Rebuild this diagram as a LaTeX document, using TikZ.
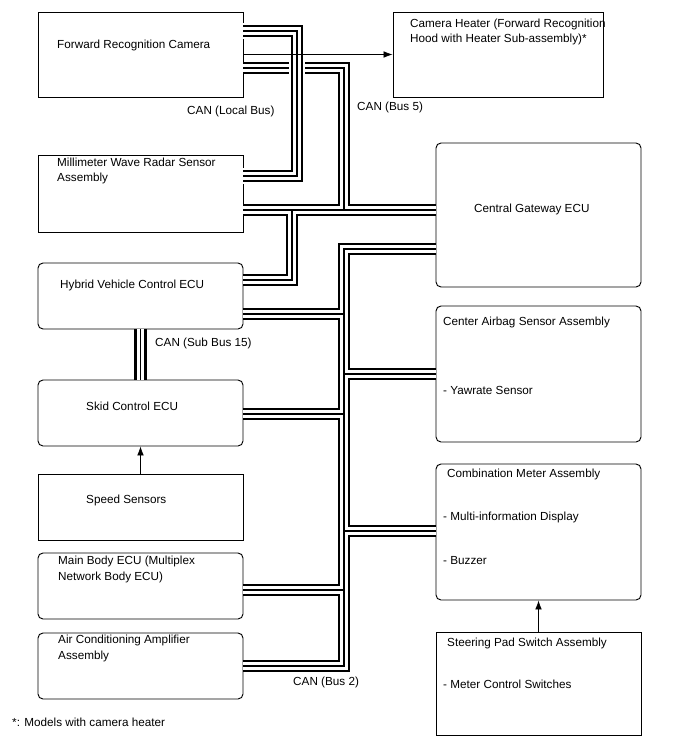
\documentclass[tikz,border=0pt]{standalone}
\usepackage{fontspec}
\setmainfont{Liberation Sans}
\usetikzlibrary{arrows.meta}

\begin{document}
\begin{tikzpicture}[
        x=0.03cm, y=-0.03cm,
        ecubox/.style={rectangle, rounded corners=1.5mm, draw=black, line width=0.8pt, minimum width=6.15cm},
        plainbox/.style={rectangle, draw=black, line width=0.8pt, minimum width=6.15cm},
        lbl/.style={anchor=west, inner sep=0pt, align=left, font=\fontsize{10}{13.6}\selectfont},
        canbus/.style={draw=black, line width=0.45mm, preaction={draw=black, line width=3.75mm}, preaction={draw=white, line width=2.25mm}},
        canover/.style={preaction={draw=white, line width=4.95mm}, canbus},
        arr/.style={-{Latex[length=2.7mm, width=2mm]}, line width=0.6pt},
    ]
        \useasboundingbox (0,0) rectangle (688,755);

        % Left column
        \node[plainbox, minimum height=2.55cm] (frc) at (140.5,54.5) {};
        \node[plainbox, minimum height=2.31cm] (mwr) at (140.5,193.5) {};
        \node[ecubox, minimum height=1.98cm] (hv) at (140.5,296) {};
        \node[ecubox, minimum height=1.98cm] (skid) at (140.5,413) {};
        \node[plainbox, minimum height=1.98cm] (speed) at (140.5,507) {};
        \node[ecubox, minimum height=1.98cm] (body) at (140.5,586) {};
        \node[ecubox, minimum height=1.98cm] (ac) at (140.5,666) {};

        % Right column
        \node[plainbox, minimum width=6.3cm, minimum height=2.55cm] (heater) at (498,54.5) {};
        \node[ecubox, minimum height=4.32cm] (cgw) at (538.5,215) {};
        \node[ecubox, minimum height=4.08cm] (airbag) at (538.5,374) {};
        \node[ecubox, minimum height=4.08cm] (meter) at (538.5,532) {};
        \node[plainbox, minimum height=3.09cm] (pad) at (538.5,683.5) {};

        % Box texts
        \node[lbl] (frc-t) at (57,45) {Forward Recognition Camera};
        \node[lbl] (heater-t) at (410,32) {Camera Heater (Forward Recognition\\Hood with Heater Sub-assembly)*};
        \node[lbl] (mwr-t) at (57,171) {Millimeter Wave Radar Sensor\\Assembly};
        \node[lbl] (hv-t) at (60,285) {Hybrid Vehicle Control ECU};
        \node[lbl] (skid-t) at (86,406) {Skid Control ECU};
        \node[lbl] (speed-t) at (86,500) {Speed Sensors};
        \node[lbl] (body-t) at (58,569) {Main Body ECU (Multiplex\\Network Body ECU)};
        \node[lbl] (ac-t) at (58,648) {Air Conditioning Amplifier\\Assembly};
        \node[lbl] (cgw-t) at (474,209) {Central Gateway ECU};
        \node[lbl] (airbag-t) at (443,322) {Center Airbag Sensor Assembly};
        \node[lbl] (yaw-t) at (443,390) {- Yawrate Sensor};
        \node[lbl] (meter-t) at (447,474) {Combination Meter Assembly};
        \node[lbl] (mid-t) at (443,517) {- Multi-information Display};
        \node[lbl] (buzz-t) at (443,561) {- Buzzer};
        \node[lbl] (pad-t) at (447,643) {Steering Pad Switch Assembly};
        \node[lbl] (mcs-t) at (443,684) {- Meter Control Switches};

        % Bus labels
        \node[lbl] (local-l) at (187,111) {CAN (Local Bus)};
        \node[lbl] (bus5-l) at (357,107) {CAN (Bus 5)};
        \node[lbl] (sub15-l) at (155,343) {CAN (Sub Bus 15)};
        \node[lbl] (bus2-l) at (293,682) {CAN (Bus 2)};
        \node[lbl] (note) at (12,722) {*: Models with camera heater};

        % CAN (Bus 5)
        \draw[canbus] (frc.east |- 0,68) -| (344,210)
            (mwr.east |- 0,210) -- (cgw.west |- 0,210)
            (hv.east |- 0,280) -| (292,210);

        % CAN (Local Bus), crosses Bus 5
        \draw[canover] (frc.east |- 0,31) -| (297,176) -- (mwr.east |- 0,176);

        % CAN (Bus 2)
        \draw[canbus] (cgw.west |- 0,249) -| (344,666) -- (ac.east |- 0,666)
            (hv.east |- 0,314) -- (344,314)
            (airbag.west) -- (344,374)
            (skid.east |- 0,414) -- (344,414)
            (meter.west |- 0,531) -- (344,531)
            (body.east |- 0,590) -- (344,590);

        % CAN (Sub Bus 15)
        \draw[canbus] (hv.south) -- (skid.north);

        % Signal arrows
        \draw[arr] (frc) -- (heater);
        \draw[arr] (speed) -- (skid);
        \draw[arr] (pad) -- (meter);
    \end{tikzpicture}
\end{document}
